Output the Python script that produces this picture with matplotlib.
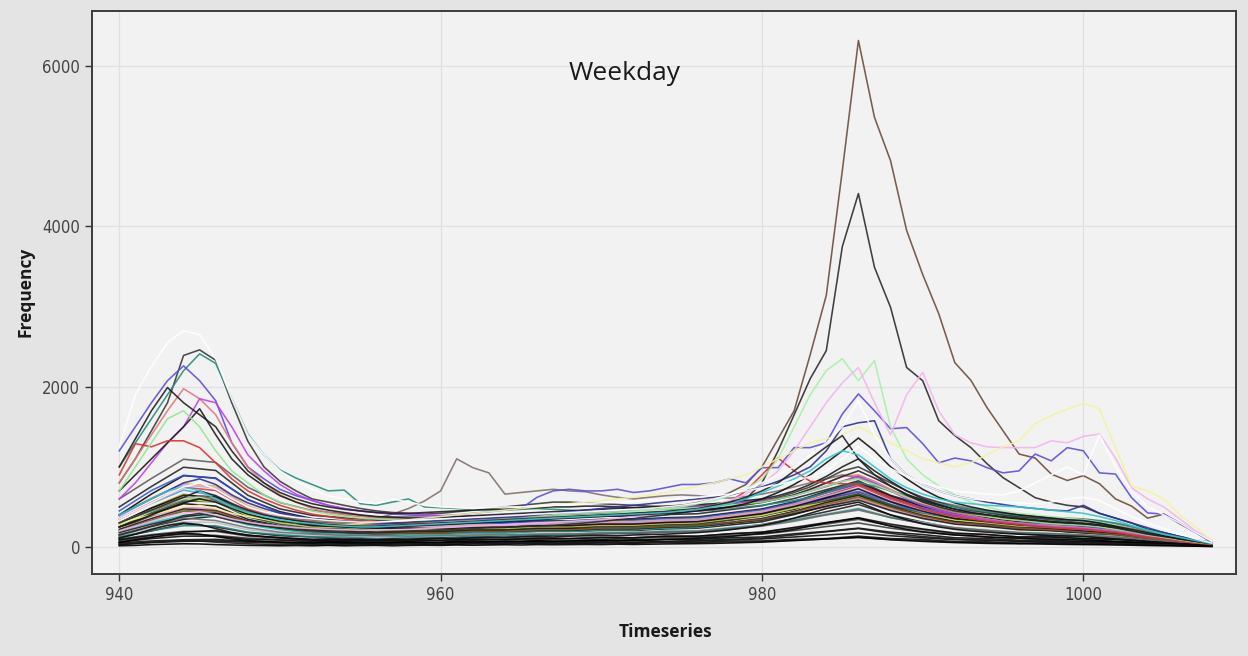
import numpy as np
import matplotlib
matplotlib.use("Agg")
import matplotlib.pyplot as plt

# time index of the hourly counts, full and every-other step
ts = np.arange(940, 1009)
ts_half = np.arange(940, 1009, 2)

# main series, one value per step (940 .. 1008)
brown_peak = [250, 310, 390, 470, 560, 610, 570, 490, 430, 380,
              350, 330, 315, 300, 290, 285, 290, 300, 305, 320,
              330, 345, 350, 365, 370, 385, 390, 400, 415, 420,
              430, 445, 460, 475, 500, 520, 555, 600, 680, 780,
              1000, 1350, 1700, 2400, 3140, 4700, 6320, 5360, 4820, 3950,
              3400, 2910, 2300, 2080, 1740, 1450, 1160, 1110, 910, 830,
              890, 790, 600, 510, 360, 410, 290, 180, 60]
black_peak = [150, 200, 260, 320, 390, 420, 380, 330, 290, 260,
              240, 220, 205, 190, 180, 175, 180, 185, 195, 200,
              210, 220, 230, 240, 245, 255, 260, 270, 285, 300,
              320, 340, 355, 380, 400, 430, 460, 500, 540, 600,
              800, 1200, 1650, 2100, 2450, 3750, 4410, 3490, 2990, 2240,
              2075, 1575, 1390, 1240, 1040, 865, 740, 615, 560, 520,
              500, 420, 360, 300, 220, 180, 130, 90, 50]
greybrown = [300, 380, 450, 520, 590, 640, 600, 520, 450, 400,
             370, 350, 335, 320, 310, 330, 360, 410, 480, 575,
             700, 1100, 990, 925, 660, 680, 700, 720, 700, 690,
             650, 620, 600, 620, 640, 650, 640, 620, 610, 630,
             660, 700, 750, 800, 850, 900, 860, 780, 700, 640,
             600, 560, 520, 480, 450, 420, 400, 380, 360, 350,
             340, 320, 290, 250, 200, 170, 130, 90, 50]
white_morning = [1250, 1900, 2250, 2550, 2700, 2650, 2350, 1850, 1400, 1150,
                 950, 820, 720, 640, 600, 560, 540, 600, 560, 520,
                 500, 490, 480, 490, 500, 500, 510, 520, 530, 540,
                 550, 560, 570, 580, 590, 600, 620, 640, 660, 700,
                 740, 780, 820, 880, 950, 1100, 1250, 1100, 980, 880,
                 800, 750, 700, 680, 660, 650, 700, 800, 900, 1000,
                 900, 1400, 1000, 700, 500, 400, 300, 180, 70]
dark_morning = [800, 1100, 1450, 1800, 2390, 2460, 2330, 1800, 1320, 1000,
                820, 700, 600, 560, 520, 480, 450, 430, 420, 410,
                420, 440, 460, 480, 500, 520, 540, 560, 560, 550,
                540, 530, 520, 510, 500, 500, 510, 520, 540, 560,
                580, 620, 680, 750, 850, 950, 1000, 900, 800, 700,
                620, 560, 500, 460, 430, 400, 380, 360, 340, 320,
                300, 280, 250, 210, 170, 140, 110, 80, 50]
teal = [1000, 1300, 1600, 1900, 2200, 2410, 2290, 1850, 1410, 1150,
        960, 860, 780, 700, 710, 540, 520, 560, 600, 500,
        490, 480, 470, 460, 460, 470, 480, 470, 460, 450,
        440, 430, 420, 420, 430, 440, 450, 460, 480, 500,
        520, 550, 580, 620, 680, 750, 800, 760, 700, 640,
        580, 540, 500, 470, 440, 420, 400, 380, 370, 360,
        350, 330, 300, 260, 210, 170, 130, 90, 50]
violet = [1200, 1500, 1800, 2075, 2260, 2075, 1825, 1300, 1000, 850,
          720, 640, 580, 520, 480, 450, 430, 410, 400, 390,
          390, 400, 420, 440, 460, 480, 620, 700, 720, 700,
          700, 720, 680, 700, 740, 780, 780, 800, 850, 800,
          990, 990, 1240, 1240, 1300, 1660, 1910, 1700, 1475, 1490,
          1290, 1050, 1110, 1075, 990, 925, 950, 1160, 1075, 1240,
          1200, 925, 910, 615, 425, 410, 300, 180, 60]
salmon = [800, 1100, 1400, 1700, 1975, 1850, 1650, 1300, 1000, 800,
          650, 560, 480, 430, 400, 380, 360, 350, 340, 330,
          330, 330, 340, 350, 360, 370, 370, 380, 380, 390,
          390, 400, 410, 420, 430, 440, 450, 470, 490, 520,
          560, 600, 650, 720, 800, 880, 900, 820, 720, 620,
          540, 480, 430, 390, 350, 320, 300, 280, 260, 250,
          240, 220, 200, 170, 140, 110, 80, 60, 40]
magenta = [600, 800, 1050, 1300, 1500, 1850, 1800, 1500, 1150, 950,
           780, 660, 580, 520, 480, 450, 430, 420, 410, 400,
           390, 380, 380, 380, 390, 400, 400, 410, 420, 430,
           440, 450, 460, 470, 480, 490, 500, 520, 540, 560,
           580, 600, 640, 700, 760, 820, 880, 800, 700, 600,
           520, 460, 410, 370, 340, 310, 290, 270, 250, 240,
           230, 210, 190, 160, 130, 100, 80, 60, 40]
black_early = [1000, 1350, 1700, 1990, 1800, 1650, 1500, 1200, 950, 800,
               680, 600, 540, 500, 470, 450, 430, 420, 420, 430,
               440, 450, 460, 470, 470, 480, 490, 500, 500, 510,
               510, 500, 490, 480, 470, 460, 470, 480, 500, 530,
               560, 600, 650, 720, 800, 880, 950, 860, 760, 660,
               580, 520, 470, 430, 400, 370, 350, 330, 310, 300,
               290, 270, 240, 200, 160, 130, 100, 70, 40]
black_mid = [700, 900, 1100, 1300, 1500, 1725, 1400, 1100, 900, 760,
             640, 560, 500, 460, 430, 400, 380, 370, 360, 360,
             370, 380, 390, 400, 410, 420, 430, 440, 450, 460,
             470, 480, 490, 500, 510, 520, 530, 540, 560, 580,
             600, 640, 700, 780, 880, 1000, 1100, 950, 820, 700,
             600, 530, 470, 430, 400, 370, 350, 330, 310, 300,
             290, 270, 240, 200, 160, 130, 100, 70, 40]
red = [900, 1290, 1250, 1325, 1325, 1240, 1050, 850, 700, 600,
       520, 460, 410, 380, 350, 330, 320, 310, 300, 300,
       300, 300, 310, 320, 330, 340, 350, 360, 370, 380,
       390, 400, 410, 420, 430, 450, 470, 500, 560, 700,
       900, 1110, 950, 820, 800, 790, 780, 700, 620, 550,
       470, 420, 380, 350, 320, 300, 280, 260, 240, 230,
       220, 200, 180, 150, 120, 100, 70, 50, 30]
mint = [700, 1000, 1300, 1600, 1700, 1500, 1200, 950, 800, 650,
        560, 500, 450, 410, 380, 360, 350, 340, 330, 330,
        330, 340, 350, 360, 370, 380, 390, 400, 410, 420,
        430, 440, 450, 460, 470, 480, 490, 500, 520, 540,
        560, 600, 640, 700, 760, 820, 850, 780, 700, 620,
        550, 500, 450, 410, 380, 350, 330, 310, 290, 280,
        270, 250, 220, 190, 150, 120, 90, 60, 40]
pale_green = [300, 380, 460, 540, 600, 620, 560, 480, 420, 380,
              340, 310, 290, 280, 270, 260, 260, 270, 280, 290,
              300, 310, 320, 330, 340, 350, 360, 370, 380, 390,
              400, 420, 440, 460, 480, 500, 540, 580, 640, 720,
              850, 1100, 1500, 1900, 2200, 2350, 2075, 2325, 1500, 1100,
              900, 760, 650, 560, 500, 450, 420, 400, 380, 360,
              340, 310, 270, 220, 180, 140, 100, 70, 40]
pale_pink = [200, 260, 320, 380, 420, 440, 400, 350, 310, 280,
             260, 240, 230, 220, 215, 210, 210, 215, 220, 230,
             240, 250, 260, 270, 280, 290, 300, 310, 320, 330,
             340, 360, 380, 400, 420, 450, 480, 520, 580, 660,
             780, 950, 1200, 1500, 1800, 2050, 2240, 1800, 1400, 1900,
             2180, 1700, 1400, 1300, 1250, 1240, 1240, 1240, 1325, 1300,
             1380, 1410, 1110, 740, 600, 500, 350, 200, 80]
pale_yellow = [300, 350, 400, 450, 500, 520, 480, 420, 380, 350,
               320, 300, 290, 280, 280, 290, 300, 320, 340, 360,
               380, 400, 420, 440, 460, 480, 500, 520, 540, 560,
               580, 600, 620, 650, 680, 720, 760, 800, 850, 900,
               1000, 1100, 1200, 1300, 1350, 1400, 1500, 1400, 1300, 1200,
               1100, 1050, 1000, 1050, 1150, 1250, 1325, 1540, 1640, 1720,
               1790, 1725, 1240, 760, 700, 600, 400, 250, 80]
navy = [400, 500, 600, 700, 800, 850, 780, 650, 550, 480,
        420, 380, 350, 330, 320, 310, 300, 300, 310, 320,
        330, 340, 350, 360, 370, 380, 400, 420, 440, 460,
        480, 500, 520, 540, 560, 580, 600, 620, 650, 700,
        750, 820, 900, 1000, 1200, 1500, 1550, 1575, 1100, 900,
        780, 700, 640, 600, 560, 530, 500, 480, 460, 450,
        520, 420, 360, 300, 240, 180, 130, 90, 50]
black_985 = [300, 380, 460, 540, 620, 700, 640, 540, 460, 400,
             360, 330, 300, 280, 270, 260, 260, 270, 280, 290,
             300, 310, 320, 330, 340, 350, 360, 370, 380, 390,
             400, 410, 420, 430, 440, 460, 480, 520, 560, 620,
             700, 800, 950, 1100, 1250, 1390, 1100, 900, 760, 650,
             560, 500, 450, 420, 400, 380, 360, 340, 320, 300,
             290, 270, 240, 200, 160, 130, 100, 70, 40]
black_986 = [250, 320, 400, 480, 550, 600, 560, 480, 410, 360,
             320, 300, 280, 260, 250, 240, 240, 250, 260, 270,
             280, 290, 300, 310, 320, 330, 340, 350, 360, 370,
             380, 390, 400, 410, 420, 430, 450, 470, 500, 540,
             600, 680, 780, 900, 1050, 1200, 1360, 1200, 1000, 850,
             720, 620, 550, 500, 460, 430, 400, 380, 360, 340,
             330, 300, 260, 220, 180, 140, 100, 70, 40]
cyan = [400, 500, 600, 700, 750, 700, 600, 500, 430, 380,
        340, 310, 290, 270, 260, 250, 250, 260, 270, 280,
        290, 300, 310, 320, 330, 340, 350, 360, 370, 380,
        390, 400, 410, 420, 430, 450, 470, 500, 540, 600,
        680, 760, 850, 950, 1100, 1200, 1150, 1000, 850, 740,
        660, 600, 560, 540, 520, 510, 500, 480, 460, 440,
        420, 380, 330, 270, 210, 160, 120, 80, 40]
white_evening = [350, 450, 550, 650, 750, 800, 720, 600, 500, 440,
                 400, 370, 350, 330, 320, 310, 310, 320, 330, 340,
                 350, 360, 370, 380, 390, 400, 410, 420, 430, 440,
                 450, 460, 470, 480, 500, 520, 550, 600, 650, 720,
                 800, 900, 1000, 1150, 1300, 1500, 1825, 1400, 1100, 900,
                 780, 700, 640, 600, 580, 560, 550, 540, 560, 600,
                 620, 580, 480, 380, 300, 230, 160, 100, 50]
# low-volume stations that make up the dark band near zero
low_a = [60, 90, 120, 150, 170, 160, 130, 100, 80, 70,
         60, 55, 50, 60, 50, 45, 55, 50, 60, 55,
         60, 70, 60, 65, 75, 70, 80, 70, 75, 80,
         85, 80, 90, 85, 95, 100, 110, 120, 130, 150,
         170, 190, 220, 260, 300, 330, 360, 310, 260, 220,
         190, 170, 150, 140, 125, 115, 110, 100, 95, 90,
         85, 80, 70, 60, 50, 45, 35, 25, 15]
low_b = [30, 45, 60, 70, 80, 75, 60, 50, 40, 35,
         30, 35, 30, 25, 30, 35, 30, 35, 40, 35,
         40, 35, 45, 40, 45, 50, 45, 50, 55, 50,
         55, 60, 55, 60, 65, 70, 75, 80, 90, 100,
         110, 130, 150, 170, 190, 210, 230, 200, 170, 150,
         130, 115, 100, 90, 85, 80, 75, 70, 65, 60,
         55, 50, 45, 40, 35, 30, 25, 20, 10]
low_c = [110, 160, 220, 270, 300, 280, 230, 180, 150, 130,
         115, 105, 95, 100, 90, 95, 90, 100, 95, 105,
         110, 105, 115, 120, 115, 125, 130, 125, 135, 140,
         145, 140, 150, 155, 160, 170, 180, 195, 215, 240,
         270, 310, 360, 420, 480, 520, 560, 480, 400, 340,
         290, 250, 220, 200, 185, 170, 160, 150, 140, 135,
         130, 115, 100, 85, 70, 55, 40, 30, 20]
low_d = [15, 20, 30, 35, 40, 38, 30, 25, 20, 18,
         15, 18, 15, 20, 15, 18, 20, 15, 20, 22,
         20, 25, 22, 25, 28, 25, 30, 28, 30, 32,
         30, 35, 32, 35, 38, 40, 42, 45, 50, 55,
         60, 70, 80, 90, 100, 110, 120, 105, 90, 80,
         70, 62, 55, 50, 45, 42, 40, 38, 35, 32,
         30, 28, 25, 22, 18, 15, 12, 10, 5]

main_series = [
    (low_a, "#000000"), (low_b, "#1a1a1a"), (low_c, "#0a0a0a"), (low_d, "#000000"),
    (brown_peak, "#6b4c3b"), (black_peak, "#2b2b2b"), (greybrown, "#80706a"),
    (dark_morning, "#3a3a3a"), (teal, "#2a8c7c"), (violet, "#5b4de0"),
    (salmon, "#e07878"), (magenta, "#c040e8"), (black_early, "#202020"),
    (black_mid, "#1c1c1c"), (red, "#e03030"), (mint, "#90e890"),
    (pale_green, "#a8f0a8"), (pale_pink, "#f4b4ee"), (pale_yellow, "#f2f2a0"),
    (navy, "#30309a"), (black_985, "#222222"), (black_986, "#111111"),
    (cyan, "#30c8d0"), (white_morning, "#ffffff"), (white_evening, "#ffffff"),
]

# quieter stations, every second step (940, 942, .. 1008)
bg = [
    ([120, 200, 290, 250, 180, 140, 125, 105, 100, 95, 110, 125, 130, 145, 150, 165, 170, 185, 200, 235,
      280, 355, 440, 530, 400, 310, 235, 205, 165, 150, 140, 105, 80, 55, 30], "#111111"),
    ([80, 125, 160, 145, 110, 95, 80, 70, 75, 70, 80, 85, 90, 95, 100, 95, 110, 115, 120, 145,
      160, 205, 255, 300, 235, 185, 150, 125, 110, 105, 90, 70, 50, 40, 20], "#333333"),
    ([250, 410, 540, 510, 345, 265, 215, 205, 185, 195, 200, 215, 220, 235, 240, 255, 260, 275, 290, 335,
      400, 470, 610, 690, 565, 415, 345, 285, 255, 215, 200, 165, 120, 80, 40], "#000000"),
    ([300, 490, 660, 590, 425, 315, 275, 235, 225, 205, 215, 220, 235, 240, 255, 260, 275, 280, 305, 340,
      395, 485, 575, 655, 515, 405, 325, 285, 245, 235, 210, 175, 130, 90, 40], "#b8a000"),
    ([200, 330, 445, 425, 295, 235, 195, 185, 165, 175, 180, 195, 200, 215, 220, 235, 240, 255, 270, 305,
      345, 425, 515, 605, 465, 365, 295, 265, 225, 215, 190, 155, 110, 70, 30], "#2a8a2a"),
    ([50, 75, 90, 95, 70, 60, 50, 55, 45, 50, 50, 60, 55, 65, 60, 70, 75, 70, 80, 95,
      100, 125, 150, 175, 140, 115, 90, 85, 70, 65, 60, 50, 40, 30, 20], "#000000"),
    ([400, 610, 790, 760, 515, 385, 315, 295, 265, 265, 255, 275, 275, 295, 295, 315, 315, 335, 345, 395,
      445, 545, 675, 790, 615, 485, 395, 345, 295, 275, 245, 205, 150, 100, 50], "#f0a030"),
    ([350, 545, 710, 640, 455, 325, 285, 245, 245, 225, 235, 235, 255, 255, 275, 275, 295, 295, 325, 355,
      425, 495, 625, 695, 565, 425, 365, 305, 275, 235, 225, 175, 130, 90, 40], "#40a0e0"),
    ([150, 255, 345, 385, 295, 225, 175, 165, 145, 155, 155, 175, 175, 195, 195, 205, 205, 225, 235, 275,
      315, 405, 515, 625, 495, 385, 305, 265, 225, 205, 175, 145, 100, 70, 30], "#0a0a0a"),
    ([300, 485, 615, 585, 395, 305, 255, 245, 225, 225, 215, 235, 235, 255, 255, 275, 275, 295, 305, 355,
      405, 495, 595, 685, 535, 415, 335, 295, 255, 235, 205, 175, 120, 80, 40], "#8040c0"),
    ([100, 155, 195, 195, 135, 115, 95, 95, 85, 95, 85, 105, 95, 115, 105, 125, 115, 135, 135, 165,
      185, 235, 285, 345, 265, 215, 165, 155, 125, 125, 105, 95, 70, 50, 20], "#444444"),
    ([400, 660, 890, 860, 590, 440, 355, 325, 295, 295, 285, 305, 305, 325, 325, 345, 345, 365, 375, 425,
      475, 565, 695, 805, 635, 505, 415, 365, 315, 295, 265, 225, 160, 110, 50], "#000000"),
    ([250, 385, 495, 475, 325, 255, 205, 195, 175, 185, 185, 205, 205, 225, 225, 245, 245, 265, 275, 315,
      355, 435, 525, 605, 475, 375, 295, 265, 225, 215, 185, 155, 110, 70, 30], "#f080c0"),
    ([200, 305, 395, 385, 275, 215, 175, 165, 145, 155, 155, 175, 175, 195, 195, 215, 215, 235, 245, 295,
      345, 435, 555, 655, 515, 405, 325, 285, 245, 225, 195, 165, 120, 80, 30], "#20c0c0"),
    ([180, 285, 375, 425, 315, 245, 195, 185, 165, 175, 175, 195, 195, 205, 205, 225, 225, 245, 255, 295,
      335, 415, 505, 585, 455, 355, 285, 255, 215, 205, 175, 145, 100, 70, 30], "#151515"),
    ([350, 555, 745, 705, 475, 355, 295, 275, 245, 245, 235, 255, 255, 275, 275, 295, 295, 315, 325, 375,
      425, 525, 645, 765, 595, 465, 375, 325, 275, 265, 235, 195, 140, 90, 40], "#e03030"),
    ([60, 105, 135, 135, 95, 85, 65, 65, 55, 65, 55, 75, 65, 75, 75, 85, 85, 95, 95, 115,
      125, 165, 195, 235, 185, 155, 115, 105, 85, 85, 65, 65, 50, 30, 20], "#000000"),
    ([250, 425, 575, 565, 375, 285, 235, 225, 205, 205, 195, 215, 215, 235, 235, 255, 255, 275, 285, 335,
      385, 475, 575, 665, 525, 405, 325, 285, 245, 225, 195, 165, 120, 80, 40], "#205020"),
    ([500, 755, 995, 955, 645, 475, 395, 365, 335, 335, 325, 345, 345, 365, 365, 385, 385, 405, 415, 465,
      515, 605, 715, 825, 645, 525, 435, 385, 335, 315, 285, 235, 170, 110, 50], "#1a1a1a"),
    ([150, 235, 315, 305, 215, 175, 145, 145, 125, 135, 135, 155, 155, 165, 165, 185, 185, 205, 205, 245,
      275, 345, 415, 485, 375, 305, 245, 215, 185, 175, 155, 135, 90, 60, 30], "#bbbbbb"),
    ([280, 455, 595, 565, 395, 305, 255, 245, 225, 225, 215, 235, 235, 255, 255, 275, 275, 295, 305, 355,
      395, 485, 555, 625, 495, 405, 335, 305, 265, 255, 225, 185, 130, 90, 40], "#e0e040"),
    ([30, 55, 70, 75, 60, 55, 40, 45, 35, 45, 35, 45, 45, 55, 45, 55, 45, 65, 55, 75,
      75, 95, 105, 135, 105, 95, 65, 65, 45, 55, 35, 45, 30, 20, 10], "#000000"),
    ([450, 705, 895, 855, 595, 425, 345, 315, 285, 285, 275, 295, 295, 315, 315, 335, 335, 355, 365, 415,
      465, 555, 675, 785, 615, 485, 395, 345, 295, 285, 255, 215, 150, 100, 50], "#3050e0"),
    ([220, 355, 475, 455, 325, 255, 205, 195, 175, 185, 185, 205, 205, 225, 225, 235, 235, 255, 265, 305,
      355, 445, 555, 645, 505, 395, 315, 275, 235, 225, 195, 165, 110, 80, 30], "#0d0d0d"),
    ([600, 855, 1095, 1055, 745, 555, 455, 415, 375, 375, 365, 385, 385, 405, 405, 425, 425, 445, 455, 505,
      555, 645, 755, 885, 695, 565, 475, 425, 375, 355, 325, 265, 190, 120, 60], "#555555"),
    ([130, 205, 265, 265, 185, 155, 125, 125, 105, 115, 115, 135, 135, 155, 155, 175, 175, 195, 195, 235,
      265, 335, 405, 475, 365, 295, 235, 205, 175, 165, 145, 125, 90, 60, 30], "#208080"),
    ([90, 145, 185, 205, 145, 115, 85, 85, 75, 85, 85, 95, 95, 105, 105, 115, 115, 135, 135, 165,
      185, 245, 305, 365, 285, 225, 175, 155, 125, 125, 105, 95, 70, 50, 20], "#000000"),
    ([380, 605, 775, 735, 495, 375, 305, 285, 255, 255, 245, 265, 265, 285, 285, 305, 305, 325, 335, 385,
      435, 525, 635, 735, 575, 455, 365, 325, 285, 265, 235, 195, 140, 90, 40], "#c0a0f0"),
    ([300, 485, 645, 625, 425, 325, 265, 255, 235, 235, 225, 245, 245, 265, 265, 285, 285, 305, 315, 365,
      415, 505, 615, 725, 565, 445, 355, 315, 275, 255, 225, 185, 130, 90, 40], "#050505"),
    ([200, 335, 455, 445, 315, 245, 195, 185, 165, 175, 175, 195, 195, 215, 215, 235, 235, 255, 265, 305,
      345, 435, 535, 625, 495, 385, 305, 275, 235, 215, 185, 155, 110, 70, 30], "#8b5a2b"),
    ([40, 60, 85, 80, 65, 50, 45, 40, 40, 35, 40, 40, 45, 45, 50, 50, 55, 55, 60, 65,
      70, 85, 100, 120, 95, 80, 65, 55, 50, 45, 40, 35, 30, 20, 10], "#222222"),
    ([160, 260, 360, 330, 240, 185, 160, 145, 140, 135, 140, 150, 155, 160, 165, 170, 180, 185, 195, 220,
      260, 320, 400, 460, 370, 290, 240, 205, 180, 165, 150, 120, 90, 60, 30], "#6a6a6a"),
]

fig = plt.figure(figsize=(12.48, 6.56), dpi=100, facecolor="#e4e4e4")
ax = fig.add_axes([0.0737, 0.125, 0.9167, 0.858], facecolor="#f2f2f2")

for vals, col in bg:
    ax.plot(ts_half, vals, color=col, lw=1.15, alpha=0.85)
for vals, col in main_series:
    ax.plot(ts, vals, color=col, lw=1.15, alpha=0.9)

ax.set_xlim(938.3, 1009.5)
ax.set_ylim(-337, 6686)
ax.set_xticks([940, 960, 980, 1000])
ax.set_yticks([0, 2000, 4000, 6000])
ax.grid(True, color="#e0e0e0", lw=0.9)
ax.set_axisbelow(True)
for s in ax.spines.values():
    s.set_color("#3c3c3c")
    s.set_linewidth(1.4)
ax.tick_params(direction="out", length=5, width=1.0, color="#333333",
               labelsize=12, labelcolor="#444444")
for lab in ax.get_xticklabels() + ax.get_yticklabels():
    lab.set_family(["Liberation Sans Narrow", "DejaVu Sans"])
    lab.set_fontstretch("condensed")

ax.text(0.466, 0.89, "Weekday", transform=ax.transAxes, ha="center", va="center",
        fontsize=19, family=["Open Sans", "DejaVu Sans"], color="#1a1a1a")
fig.text(25 / 1248, 1 - 292 / 656, "Frequency", rotation=90, ha="center", va="center",
         fontsize=12.5, fontweight="bold", family=["Open Sans", "DejaVu Sans"], color="#1a1a1a")
fig.text(665 / 1248, 1 - 632 / 656, "Timeseries", ha="center", va="center",
         fontsize=12.5, fontweight="bold", family=["Open Sans", "DejaVu Sans"], color="#1a1a1a")

fig.savefig("out.png", dpi=100, facecolor=fig.get_facecolor())
